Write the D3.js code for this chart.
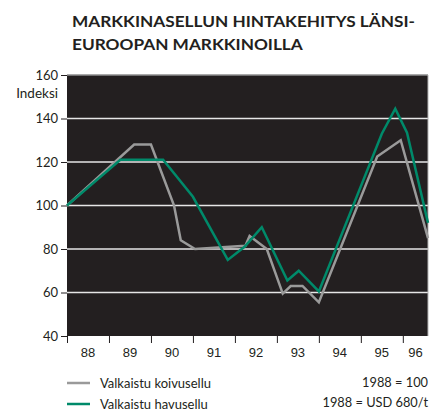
<!DOCTYPE html>
<html>
<head>
<meta charset="utf-8">
<script src="https://cdn.jsdelivr.net/npm/d3@7"></script>
<style>
  body { margin: 0; background: #fff; }
  svg { display: block; font-family: Lato, "Noto Sans", sans-serif; }
</style>
</head>
<body>
<svg id="chart"></svg>
<script>
// Values (time in fractional years, index 1988 = 100)
const yearLabels = ['88', '89', '90', '91', '92', '93', '94', '95', '96'];
const yTicks = [40, 60, 80, 100, 120, 140, 160];

const koivuTime  = [1988.0, 1989.6, 1990.0, 1990.55, 1990.71, 1991.05, 1992.25, 1992.35, 1992.76, 1993.14, 1993.33, 1993.61, 1994.0, 1995.39, 1995.95, 1996.6];
const koivuIndex = [100, 128, 128, 100, 84, 80, 81.5, 86, 80, 59.5, 63, 63, 55.5, 122.5, 130, 85];

const havuTime  = [1988.0, 1989.27, 1990.29, 1991.0, 1991.83, 1992.23, 1992.64, 1993.25, 1993.52, 1994.0, 1995.5, 1995.82, 1996.1, 1996.6];
const havuIndex = [100, 121, 121, 104, 75, 81, 90, 65.5, 70, 60.5, 133, 144.5, 133.5, 92];

const seriesNames = ['Valkaistu koivusellu', 'Valkaistu havusellu'];
const notes = ['1988 = 100', '1988 = USD 680/t'];

const width = 435;
const height = 411;
const margin = { top: 75, right: 7, bottom: 75, left: 67 };
const innerWidth = width - margin.left - margin.right;
const innerHeight = height - margin.top - margin.bottom;

const svg = d3.select('#chart').attr('width', width).attr('height', height);

// Title
const title = svg.append('g').attr('fill', '#231f20')
  .style('font-weight', 'bold').style('font-size', '14.5px');
title.append('text').attr('x', 72).attr('y', 27).text('MARKKINASELLUN HINTAKEHITYS LÄNSI-');
title.append('text').attr('x', 72).attr('y', 50).text('EUROOPAN MARKKINOILLA');
// stretch first line to the width it has in the picture
const t0 = title.select('text').node();
const w0 = t0.getComputedTextLength();
title.selectAll('text').each(function () {
  d3.select(this).attr('textLength', this.getComputedTextLength() * 343 / w0)
    .attr('lengthAdjust', 'spacingAndGlyphs');
});

const g = svg.append('g').attr('transform', `translate(${margin.left}, ${margin.top})`);

// Scales
const xScale = d3.scaleLinear().domain([1988, 1996.6]).range([0, innerWidth]);
const yScale = d3.scaleLinear().domain([40, 160]).range([innerHeight, 0]);

// Plot background
g.append('rect')
  .attr('width', innerWidth)
  .attr('height', innerHeight)
  .attr('fill', '#231f20');

// Grid lines
g.selectAll('.grid')
  .data(yTicks.filter((d) => d > 40 && d < 160))
  .enter()
  .append('line')
  .attr('x1', 0)
  .attr('x2', innerWidth)
  .attr('y1', (d) => yScale(d))
  .attr('y2', (d) => yScale(d))
  .attr('stroke', '#e6e6e6')
  .attr('stroke-width', 1.5);

// Top and right frame
g.append('line').attr('x1', 0).attr('x2', innerWidth).attr('y1', 0).attr('y2', 0)
  .attr('stroke', '#8c8c8c').attr('stroke-width', 1.5);
g.append('line').attr('x1', innerWidth).attr('x2', innerWidth).attr('y1', 0).attr('y2', innerHeight)
  .attr('stroke', '#b5b5b5').attr('stroke-width', 1);

// Lines
const line = d3.line()
  .x((d) => xScale(d[0]))
  .y((d) => yScale(d[1]));

g.append('path')
  .datum(d3.zip(koivuTime, koivuIndex))
  .attr('fill', 'none')
  .attr('stroke', '#9a9a9a')
  .attr('stroke-width', 2.5)
  .attr('d', line);

g.append('path')
  .datum(d3.zip(havuTime, havuIndex))
  .attr('fill', 'none')
  .attr('stroke', '#008a6a')
  .attr('stroke-width', 2.5)
  .attr('d', line);

// Y axis
const yAxis = g.append('g')
  .call(d3.axisLeft(yScale).tickValues(yTicks).tickSize(6).tickPadding(3));
yAxis.select('.domain').remove();
yAxis.selectAll('.tick line').attr('stroke', '#231f20');
yAxis.selectAll('.tick text')
  .attr('fill', '#231f20')
  .style('font-family', 'Lato, "Noto Sans", sans-serif')
  .style('font-size', '13px');

g.append('text')
  .attr('x', -9)
  .attr('y', yScale(151.5))
  .attr('dy', '0.35em')
  .attr('text-anchor', 'end')
  .attr('fill', '#231f20')
  .style('font-size', '13.5px')
  .text('Indeksi');

// X axis: ticks on year boundaries, labels in the middle of each year
const yearStarts = yearLabels.map((d) => 1900 + +d);
const xAxis = g.append('g').attr('transform', `translate(0, ${innerHeight})`);
xAxis.call(d3.axisBottom(xScale).tickValues(yearStarts).tickSize(7).tickFormat(''));
xAxis.select('.domain').remove();
xAxis.selectAll('.tick line').attr('stroke', '#231f20');

xAxis.selectAll('.year')
  .data(yearLabels)
  .enter()
  .append('text')
  .attr('x', (d, i) => {
    const a = yearStarts[i];
    const b = Math.min(a + 1, xScale.domain()[1]);
    return xScale((a + b) / 2);
  })
  .attr('y', 20.5)
  .attr('text-anchor', 'middle')
  .attr('fill', '#231f20')
  .style('font-size', '13px')
  .text((d) => d);

// Legend
const legendColors = ['#9a9a9a', '#008a6a'];
const legend = svg.append('g').attr('transform', `translate(${margin.left}, 383)`);
seriesNames.forEach((name, i) => {
  const row = legend.append('g').attr('transform', `translate(0, ${i * 21})`);
  row.append('line').attr('x1', 0).attr('x2', 23).attr('y1', 0).attr('y2', 0)
    .attr('stroke', legendColors[i]).attr('stroke-width', 2.5);
  row.append('text').attr('x', 33).attr('dy', '0.35em')
    .attr('fill', '#231f20').style('font-size', '13px').text(name);
});

// Notes
notes.forEach((n, i) => {
  svg.append('text')
    .attr('x', 428)
    .attr('y', 383 + i * 20)
    .attr('dy', '0.35em')
    .attr('text-anchor', 'end')
    .attr('fill', '#231f20')
    .style('font-size', '12.8px')
    .text(n);
});
</script>
</body>
</html>
